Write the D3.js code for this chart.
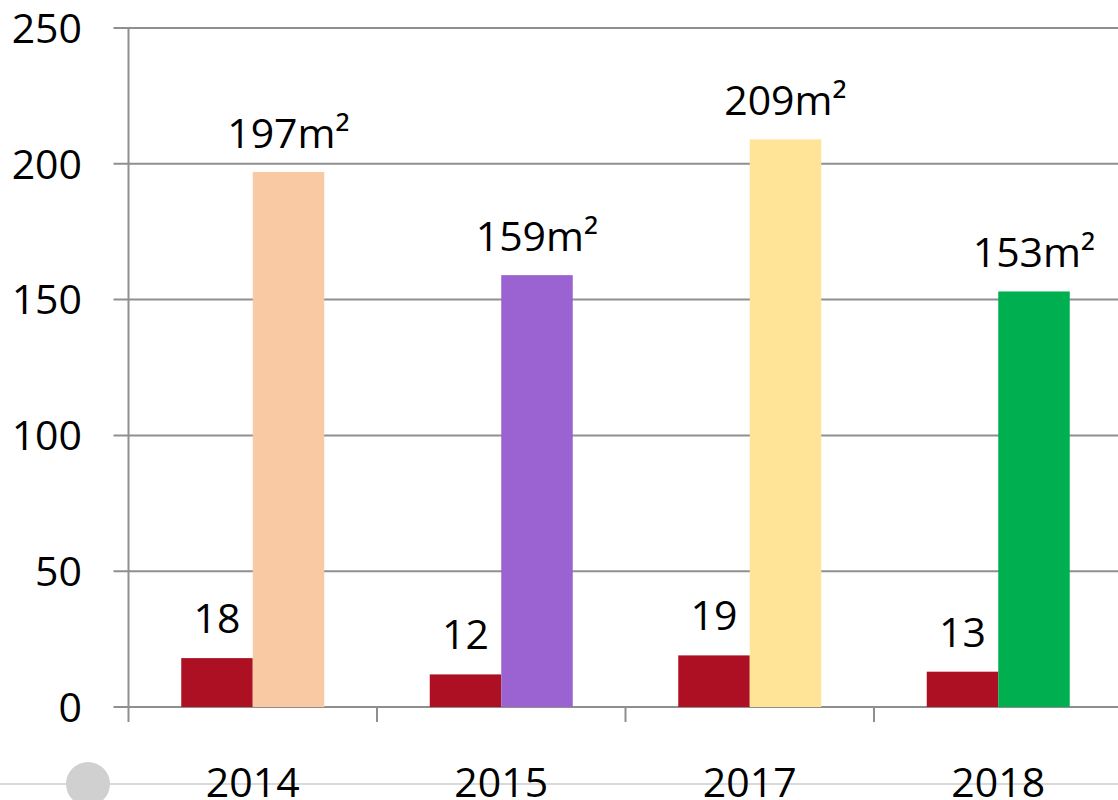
<!DOCTYPE html>
<html><head><meta charset="utf-8">
<script src="https://cdn.jsdelivr.net/npm/d3@7"></script>
<style>body{margin:0;background:#fff}svg{display:block}</style>
</head><body>
<svg id="c" width="1118" height="800"></svg>
<script>
const categories = ["2014", "2015", "2017", "2018"];
const countValues = [18, 12, 19, 13];
const areaValues = [197, 159, 209, 153];
const areaColors = ["#F8C9A3", "#9B63D1", "#FFE397", "#00B050"];
const countColor = "#AD1022";
const yTicks = [0, 50, 100, 150, 200, 250];

(function () {
const svg = d3.select("#c");
const font = "'Open Sans', Calibri, sans-serif";
const pLeft = 128.5, pRight = 1122.5, pTop = 28, pBottom = 707;
const x = d3.scaleBand().domain(categories).range([pLeft, pRight]).paddingInner(0).paddingOuter(0);
const y = d3.scaleLinear().domain([0, 250]).range([pBottom, pTop]);
const barW = 71.5;
const offset = (x.bandwidth() - 2 * barW) / 2;

// gridlines
svg.append("g").selectAll("line").data(yTicks).join("line")
  .attr("x1", pLeft - 15).attr("x2", 1118)
  .attr("y1", d => y(d)).attr("y2", d => y(d))
  .attr("stroke", "#8f8f8f").attr("stroke-width", 2);
// y axis line
svg.append("line").attr("x1", pLeft).attr("x2", pLeft).attr("y1", pTop).attr("y2", pBottom + 15)
  .attr("stroke", "#8f8f8f").attr("stroke-width", 2);
// x ticks at band boundaries
const bounds = categories.map(c => x(c));
svg.append("g").selectAll("line").data(bounds.slice(1)).join("line")
  .attr("x1", d => d).attr("x2", d => d).attr("y1", pBottom).attr("y2", pBottom + 15)
  .attr("stroke", "#8f8f8f").attr("stroke-width", 2);

// y labels
svg.append("g").selectAll("text").data(yTicks).join("text")
  .attr("x", 82).attr("y", d => y(d)).attr("dy", "0.36em")
  .attr("text-anchor", "end").attr("font-family", font).attr("font-size", 41).attr("fill", "#000")
  .text(d => d);

// bars
const g = svg.append("g");
g.selectAll("rect.count").data(categories).join("rect").attr("class", "count")
  .attr("x", c => x(c) + offset).attr("width", barW)
  .attr("y", (c, i) => y(countValues[i])).attr("height", (c, i) => y(0) - y(countValues[i]))
  .attr("fill", countColor);
g.selectAll("rect.area").data(categories).join("rect").attr("class", "area")
  .attr("x", c => x(c) + offset + barW).attr("width", barW)
  .attr("y", (c, i) => y(areaValues[i])).attr("height", (c, i) => y(0) - y(areaValues[i]))
  .attr("fill", (c, i) => areaColors[i]);

// value labels
g.selectAll("text.cl").data(categories).join("text").attr("class", "cl")
  .attr("x", c => x(c) + offset + barW / 2).attr("y", (c, i) => y(countValues[i]) - 25)
  .attr("text-anchor", "middle").attr("font-family", font).attr("font-size", 41).attr("fill", "#000")
  .text((c, i) => countValues[i]);
g.selectAll("text.al").data(categories).join("text").attr("class", "al")
  .attr("x", c => x(c) + offset + barW * 1.5).attr("y", (c, i) => y(areaValues[i]) - 24)
  .attr("text-anchor", "middle").attr("font-family", font).attr("font-size", 41).attr("fill", "#000")
  .text((c, i) => areaValues[i] + "m²");

// bottom slider-like line and circle
svg.append("line").attr("x1", 0).attr("x2", 1118).attr("y1", 784).attr("y2", 784)
  .attr("stroke", "#d9d9d9").attr("stroke-width", 2);
svg.append("circle").attr("cx", 88).attr("cy", 784).attr("r", 22).attr("fill", "#d0d0d0");

// category labels
svg.append("g").selectAll("text").data(categories).join("text")
  .attr("x", c => x(c) + x.bandwidth() / 2).attr("y", 797)
  .attr("text-anchor", "middle").attr("font-family", font).attr("font-size", 41).attr("fill", "#000")
  .text(c => c);
})();
</script>
</body></html>
